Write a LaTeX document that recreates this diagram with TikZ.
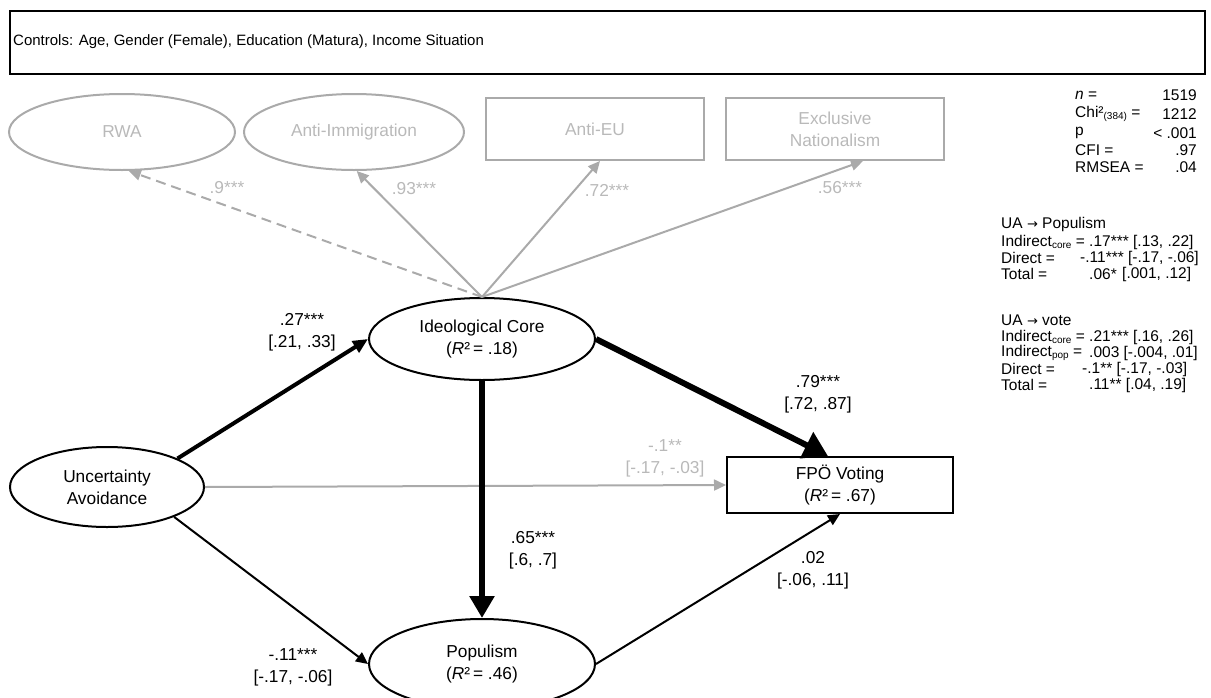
\documentclass[tikz,border=0pt]{standalone}
\usepackage{fontspec}
\setmainfont{Liberation Sans}
\newfontfamily\arrfont{DejaVu Sans}
\usetikzlibrary{shapes.geometric,arrows.meta}
\definecolor{lg}{RGB}{170,170,170}
\definecolor{lgt}{RGB}{185,185,185}
\newcommand{\smallsub}[1]{\raisebox{-0.25ex}{\fontsize{10}{10}\selectfont #1}}
\begin{document}
\begin{tikzpicture}[x=1pt,y=-1pt,
  every node/.style={font=\fontsize{17.3}{22}\selectfont, inner sep=0pt},
  ell/.style={ellipse, draw, line width=2pt, minimum width=226pt, minimum height=82pt, align=center},
  gell/.style={ell, draw=lg, text=lgt, minimum height=76pt},
  bx/.style={rectangle, draw, line width=2pt, minimum width=226pt, minimum height=56pt, align=center},
  gbx/.style={bx, draw=lg, text=lgt, minimum height=62pt, minimum width=218pt},
  lbl/.style={align=center},
  glbl/.style={lbl, text=lgt},
  thinarr/.style={line width=2pt, -{Triangle[length=12pt,width=11pt]}},
  grayarr/.style={line width=2pt, color=lg, -{Triangle[length=12pt,width=11pt]}},
  medarr/.style={line width=4pt, -{Triangle[length=15pt,width=13pt]}},
  heavyarr/.style={line width=6pt, -{Triangle[length=22pt,width=24pt]}},
  heavierarr/.style={line width=6pt, -{Triangle[length=24pt,width=28pt]}},
  txt/.style={anchor=west, font=\fontsize{15.5}{17}\selectfont},
  txtr/.style={anchor=east, font=\fontsize{15.5}{17}\selectfont}
]
\useasboundingbox (0,0) rectangle (1211,697);

% controls box
\node[draw, line width=2pt, anchor=north west, minimum width=1195pt, minimum height=63pt] (ctrlbox) at (9,10) {};
\node[anchor=west, font=\fontsize{15}{18}\selectfont] (ctrltxt) at (13,42) {Controls: Age, Gender (Female), Education (Matura), Income Situation};

% indicator nodes
\node[gell] (rwa) at (122,132) {RWA};
\node[gell, minimum width=220pt] (imm) at (354,132) {Anti-Immigration};
\node[gbx] (eu) at (595,129) {Anti-EU};
\node[gbx] (excl) at (835,129) {Exclusive\\Nationalism};

% structural nodes
\node[ell] (core) at (482,339) {Ideological Core\\(\textit{R}²\,= .18)};
\node[ell, minimum width=194pt, minimum height=80pt] (ua) at (107,487) {Uncertainty\\Avoidance};
\node[ell, minimum height=90pt] (pop) at (482,664) {Populism\\(\textit{R}²\,= .46)};
\node[bx] (fpo) at (840,485) {FPÖ Voting\\(\textit{R}²\,= .67)};

% measurement arrows
\draw[grayarr, dash pattern=on 10pt off 6pt] (core.north) -- (rwa.-80);
\draw[grayarr] (core.north) -- (imm.-86);
\draw[grayarr] (core.north) -- ([xshift=5pt]eu.south);
\draw[grayarr] (core.north) -- ([xshift=28pt]excl.south);

% structural arrows
\draw[grayarr] (ua.east) -- (fpo.west);
\draw[medarr] (ua.22) -- (core.west);
\draw[thinarr] (ua.-24) -- (pop.west);
\draw[heavyarr] (core.south) -- (pop.north);
\draw[heavierarr] (core.east) -- ([xshift=-12pt]fpo.north);
\draw[thinarr] (pop.east) -- (fpo.south);

% loadings
\node[glbl] (l9) at (227,188) {.9***};
\node[glbl] (l93) at (414,189) {.93***};
\node[glbl] (l72) at (607,190) {.72***};
\node[glbl] (l56) at (840,188) {.56***};

% path labels
\node[lbl] (l27) at (302,332) {.27***\\{}[.21, .33]};
\node[lbl] (l65) at (533,550) {.65***\\{}[.6, .7]};
\node[lbl] (l11) at (293,667) {-.11***\\{}[-.17, -.06]};
\node[lbl] (l79) at (818,394) {.79***\\{}[.72, .87]};
\node[glbl] (l1) at (665,458) {-.1**\\{}[-.17, -.03]};
\node[lbl] (l02) at (813,570) {.02\\{}[-.06, .11]};

% fit statistics
\node[txt] (fn) at (1075,95) {\textit{n} =};
\node[txt] (fchi) at (1075,114) {Chi²\smallsub{(384)} =};
\node[txt] (fp) at (1075,133) {p};
\node[txt] (fcfi) at (1075,150) {CFI =};
\node[txt] (frm) at (1075,167) {RMSEA =};
\node[txtr] (vn) at (1197,95) {1519};
\node[txtr] (vchi) at (1197,114) {1212};
\node[txtr] (vp) at (1197,133) {< .001};
\node[txtr] (vcfi) at (1197,150) {.97};
\node[txtr] (vrm) at (1197,167) {.04};

% UA -> Populism
\node[txt] (h2) at (1001,224) {UA {\arrfont\fontsize{13}{17}\selectfont →} Populism};
\node[txt] (a21) at (1001,242) {Indirect\smallsub{core} =};
\node[txt] (a22) at (1001,258) {Direct =};
\node[txt] (a23) at (1001,274) {Total =};
\node[txt] (b21) at (1089,242) {.17*** [.13, .22]};
\node[txt] (b22) at (1080,258) {-.11*** [-.17, -.06]};
\node[txt] (b23) at (1089,274) {.06*};
\node[txt] (c23) at (1122,274) {[.001, .12]};

% UA -> vote
\node[txt] (h3) at (1001,320) {UA {\arrfont\fontsize{13}{17}\selectfont →} vote};
\node[txt] (a31) at (1001,337) {Indirect\smallsub{core} =};
\node[txt] (a32) at (1001,353) {Indirect\smallsub{pop} =};
\node[txt] (a33) at (1001,369) {Direct =};
\node[txt] (a34) at (1001,385) {Total =};
\node[txt] (b31) at (1089,337) {.21*** [.16, .26]};
\node[txt] (b32) at (1089,353) {.003 [-.004, .01]};
\node[txt] (b33) at (1082,369) {-.1** [-.17, -.03]};
\node[txt] (b34) at (1089,385) {.11** [.04, .19]};
\end{tikzpicture}
\end{document}
